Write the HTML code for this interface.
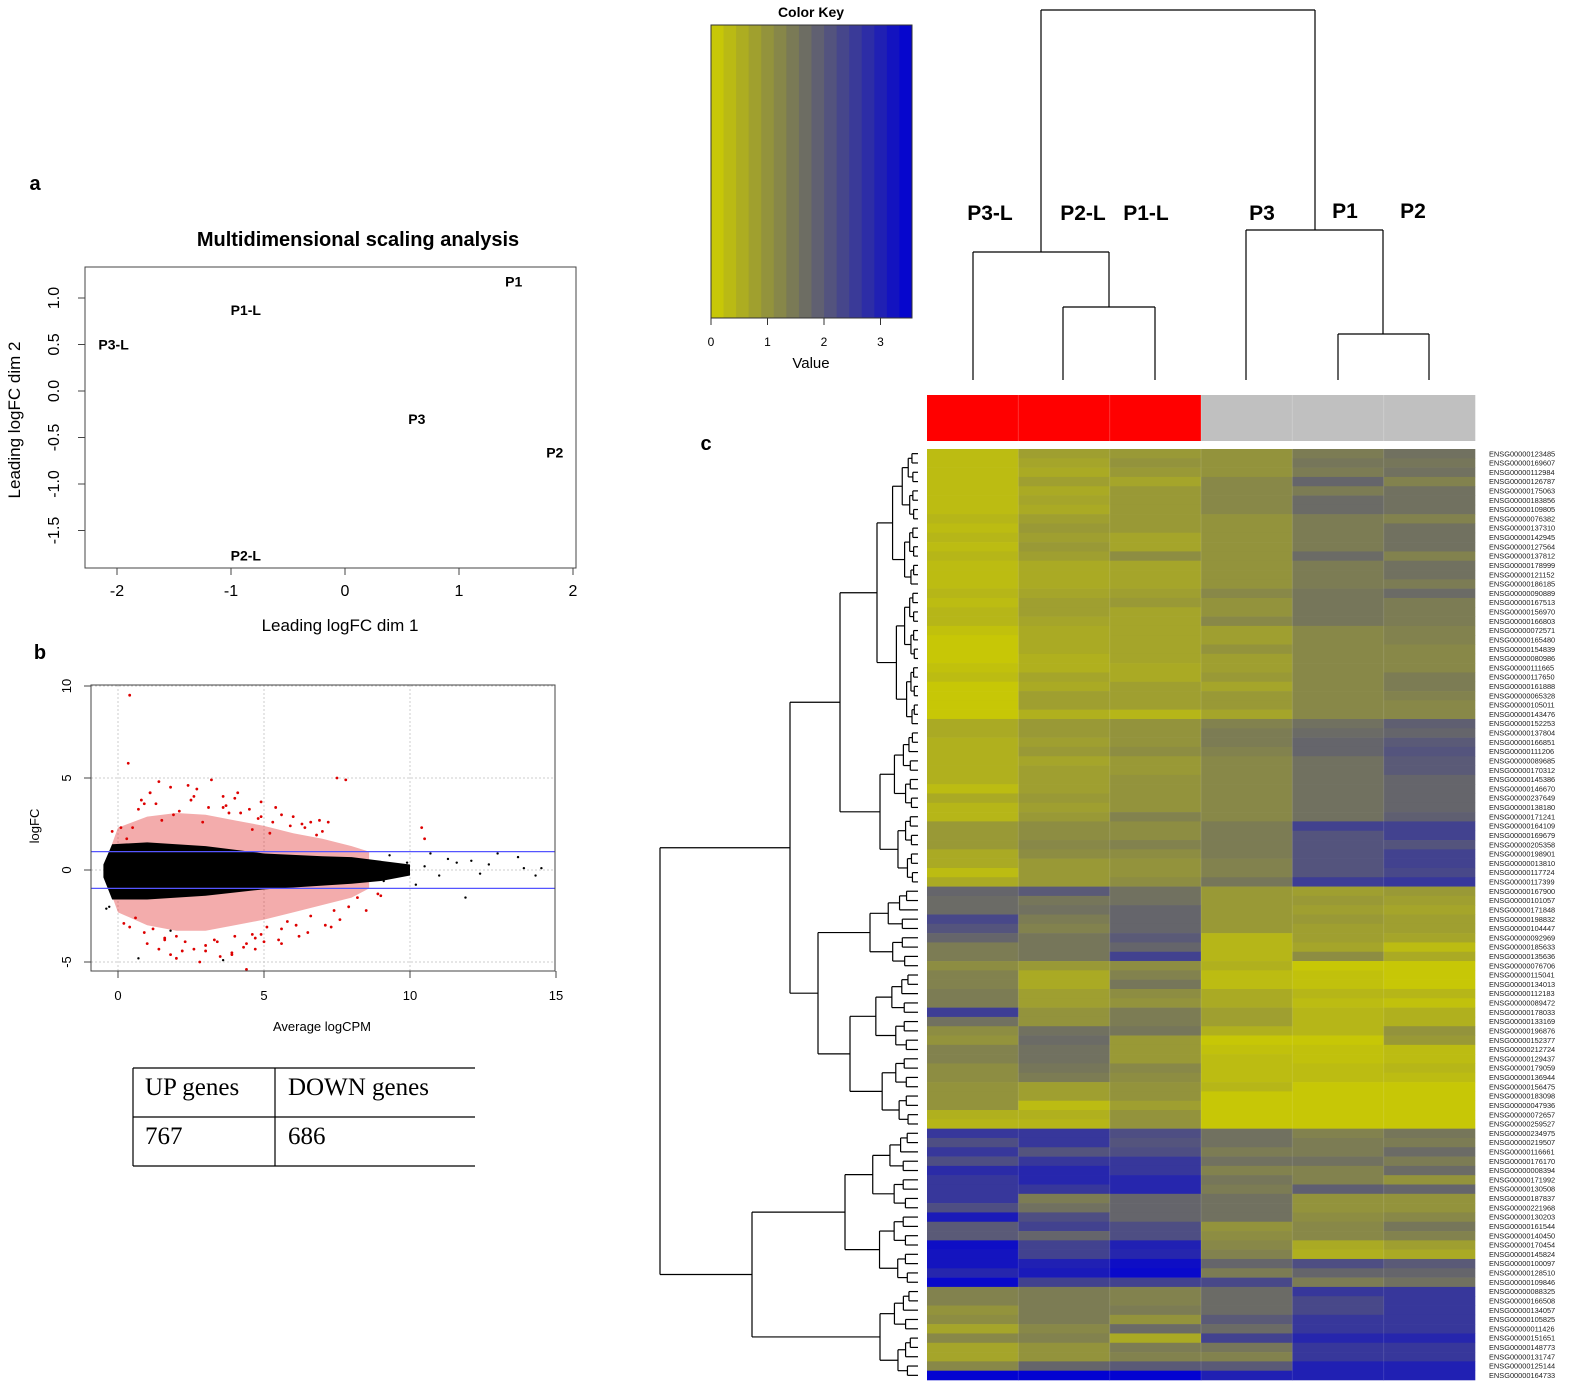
<!DOCTYPE html>
<html><head><meta charset="utf-8"><style>
html,body{margin:0;padding:0;background:#fff;}
svg{display:block;font-family:"Liberation Sans",sans-serif;}
</style></head><body>
<svg id="fig" width="1575" height="1395" viewBox="0 0 1575 1395" xmlns="http://www.w3.org/2000/svg">
<g id="panelA"></g>
<g id="panelB"></g>
<g id="table"></g>
<g id="keyG"></g>
<g id="heat"></g>
</svg>
<script>
const NS="http://www.w3.org/2000/svg";
// ---- MDS data ----
const mdsLabels=["P1","P1-L","P3-L","P3","P2","P2-L"];
const mdsX=[1.48,-0.87,-2.03,0.63,1.84,-0.87];
const mdsY=[1.18,0.87,0.50,-0.30,-0.66,-1.77];
const mdsXTicks=[-2,-1,0,1,2];
const mdsYTicks=[1.0,0.5,0.0,-0.5,-1.0,-1.5];
// ---- MA plot data ----
const maXTicks=[0,5,10,15];
const maYTicks=[10,5,0,-5];
const coreA=[-0.5,-0.2,1,3,5,7,8,9,10];
const coreUp=[0.3,1.4,1.5,1.3,0.9,0.75,0.7,0.5,0.3];
const coreLo=[-0.4,-1.6,-1.6,-1.4,-1.05,-0.85,-0.75,-0.6,-0.3];
const redA=[-0.3,0,1,2,3,4,5,6,7,8,8.6];
const redUp=[1,2.3,2.9,3.1,3.0,2.7,2.4,2.0,1.7,1.3,1];
const redLo=[-1,-2.3,-3.0,-3.3,-3.3,-3.0,-2.7,-2.3,-1.9,-1.5,-1];
const redPtA=[0.4,0.35,1.4,2.4,1.1,1.8,0.9,2.6,3.2,4.0,4.1,3.6,4.5,5.4,4.9,5.6,6.0,6.9,7.2,7.5,7.8,6.6,2.1,1.5,0.5,0.8,2.9,3.8,4.6,5.2,6.3,6.8,0.1,-0.2,0.3,1.2,2.0,3.0,3.9,4.7,5.6,6.2,7.1,7.3,8.2,9.0,10.4,10.5,1.0,1.6,2.2,3.4,4.3,4.9,5.6,6.5,7.6,8.5,8.9,0.6,2.8,3.5,4.4,
 0.7,1.3,1.9,2.5,3.1,3.7,4.2,4.8,5.3,5.9,6.4,7.0,0.2,0.9,1.6,2.3,3.3,4.0,4.6,5.1,5.8,6.6,7.4,1.1,2.7,3.6,4.9,0.4,1.8,3.0,4.4,5.5,6.1,7.9,2.0,3.9,1.4,2.6,4.7,5.0];
const redPtF=[9.5,5.8,4.8,4.6,4.2,4.5,3.6,4.0,4.9,3.9,4.2,3.4,3.3,3.4,2.9,3.0,2.9,2.7,2.6,5.0,4.9,2.6,3.2,2.7,2.3,3.8,2.6,3.1,2.2,2.0,2.5,1.9,2.3,2.1,1.7,-3.2,-3.6,-4.1,-4.6,-4.3,-4.0,-3.6,-3.0,-3.1,-1.5,-1.4,2.3,1.7,-4.0,-3.8,-4.4,-3.9,-4.2,-3.5,-3.2,-3.4,-2.7,-2.2,-1.3,-2.6,-5.0,-4.7,-5.4,
 3.3,3.6,3.0,3.8,3.4,3.5,3.1,2.8,2.6,2.4,2.3,2.1,-2.9,-3.4,-3.7,-3.9,-3.8,-3.6,-3.5,-3.1,-2.8,-2.5,-2.2,4.2,4.4,4.0,3.7,-3.1,-4.6,-4.4,-4.0,-3.8,-3.0,-2.0,-4.8,-4.5,-4.3,-4.3,-3.7,-3.9];
const blkPtA=[8.8,9.1,9.3,9.6,9.9,10.2,10.5,10.7,11.0,11.3,11.6,11.9,12.1,12.4,12.7,13.0,13.7,13.9,14.3,14.5,-0.4,-0.3,0.7,1.8,3.6];
const blkPtF=[0.3,-0.6,0.8,-0.3,0.4,-0.8,0.2,0.9,-0.3,0.6,0.4,-1.5,0.5,-0.2,0.3,0.9,0.7,0.1,-0.3,0.1,-2.1,-2.0,-4.8,-3.3,-4.9];
// ---- color key ----
const keyTicks=[0,1,2,3];
// ---- heatmap data ----
const sampleLabels=["P3-L","P2-L","P1-L","P3","P1","P2"];
const sampleGroup=["L","L","L","N","N","N"];
const geneIds=["ENSG00000123485","ENSG00000169607","ENSG00000112984","ENSG00000126787","ENSG00000175063","ENSG00000183856","ENSG00000109805","ENSG00000076382","ENSG00000137310","ENSG00000142945","ENSG00000127564","ENSG00000137812","ENSG00000178999","ENSG00000121152","ENSG00000186185","ENSG00000090889","ENSG00000167513","ENSG00000156970","ENSG00000166803","ENSG00000072571","ENSG00000165480","ENSG00000154839","ENSG00000080986","ENSG00000111665","ENSG00000117650","ENSG00000161888","ENSG00000065328","ENSG00000105011","ENSG00000143476","ENSG00000152253","ENSG00000137804","ENSG00000166851","ENSG00000111206","ENSG00000089685","ENSG00000170312","ENSG00000145386","ENSG00000146670","ENSG00000237649","ENSG00000138180","ENSG00000171241","ENSG00000164109","ENSG00000169679","ENSG00000205358","ENSG00000198901","ENSG00000013810","ENSG00000117724","ENSG00000117399","ENSG00000167900","ENSG00000101057","ENSG00000171848","ENSG00000198832","ENSG00000104447","ENSG00000092969","ENSG00000185633","ENSG00000135636","ENSG00000076706","ENSG00000115041","ENSG00000134013","ENSG00000112183","ENSG00000089472","ENSG00000178033","ENSG00000133169","ENSG00000196876","ENSG00000152377","ENSG00000212724","ENSG00000129437","ENSG00000179059","ENSG00000136944","ENSG00000156475","ENSG00000183098","ENSG00000047936","ENSG00000072657","ENSG00000259527","ENSG00000234975","ENSG00000219507","ENSG00000116661","ENSG00000176170","ENSG00000008394","ENSG00000171992","ENSG00000130508","ENSG00000187837","ENSG00000221968","ENSG00000130203","ENSG00000161544","ENSG00000140450","ENSG00000170454","ENSG00000145824","ENSG00000100097","ENSG00000128510","ENSG00000109846","ENSG00000088325","ENSG00000166508","ENSG00000134057","ENSG00000105825","ENSG00000011426","ENSG00000151651","ENSG00000148773","ENSG00000131747","ENSG00000125144","ENSG00000164733"];
const heatVals=[
[.3,.8,.9,1.0,1.4,1.6],[.3,.7,1.0,1.0,1.5,1.5],[.3,.6,.9,1.0,1.4,1.6],[.3,.8,.7,1.2,1.8,1.3],[.3,.6,.9,1.2,1.4,1.6],
[.3,.7,.9,1.2,1.7,1.6],[.3,.6,.9,1.2,1.7,1.6],[.4,.8,.9,1.0,1.4,1.3],[.3,.9,.9,1.0,1.4,1.6],[.4,.8,.7,1.0,1.4,1.6],
[.3,.9,.7,1.0,1.4,1.6],[.4,.8,1.1,1.0,1.7,1.3],[.3,.6,.7,1.0,1.4,1.6],[.3,.6,.7,1.0,1.4,1.6],[.3,.6,.7,1.0,1.4,1.4],
[.4,.7,.8,1.2,1.5,1.7],[.3,.8,.9,1.0,1.5,1.4],[.4,.8,.7,1.0,1.5,1.4],[.4,.7,.7,1.2,1.5,1.4],[.2,.6,.7,.8,1.2,1.3],
[.1,.6,.7,.8,1.2,1.3],[.1,.6,.7,1.0,1.2,1.2],[.1,.5,.7,.8,1.2,1.2],[.2,.5,.6,.8,1.2,1.2],[.3,.7,.6,.9,1.2,1.4],
[.1,.6,.8,.7,1.2,1.4],[.1,.8,.8,.9,1.2,1.3],[.1,.8,.8,.9,1.2,1.2],[.1,.5,.4,.7,1.2,1.2],[.6,.9,1.0,1.3,1.6,1.9],
[.6,.9,1.0,1.4,1.7,1.8],[.5,.8,1.0,1.4,1.8,2.0],[.5,.9,1.1,1.3,1.8,2.1],[.5,.7,.9,1.2,1.6,2.0],[.5,.8,.9,1.2,1.6,2.0],
[.5,.8,1.0,1.2,1.6,1.8],[.3,.8,1.0,1.2,1.6,1.8],[.6,.9,1.0,1.2,1.6,1.8],[.4,.8,1.0,1.2,1.6,1.8],[.4,.9,1.3,1.2,1.6,1.9],
[.9,1.1,1.1,1.4,2.4,2.4],[.9,1.1,1.1,1.4,2.1,2.4],[.9,1.2,1.3,1.4,2.1,2.1],[.6,1.1,1.1,1.4,2.1,2.4],[.6,.9,1.0,1.3,2.1,2.4],
[.3,.9,1.0,1.3,2.1,2.3],[.6,.9,1.1,1.5,2.5,2.6],[1.8,2.0,1.6,.9,.8,.9],[1.7,1.5,1.6,.9,.9,.8],[1.7,1.6,1.8,.9,.8,.7],
[2.3,1.4,1.8,.9,.9,.8],[2.1,1.3,1.8,.9,.8,.8],[1.8,1.5,2.0,.4,.8,.7],[1.4,1.5,1.8,.4,.7,.3],[1.4,1.5,2.4,.4,1.1,.6],
[1.1,.9,1.1,.5,.1,.1],[1.3,.6,1.3,.3,.2,.1],[1.3,.6,1.5,.3,.2,.1],[1.4,.8,1.1,.6,.4,.4],[1.4,.8,1.0,.6,.3,.2],
[2.5,1.0,1.4,.8,.4,.5],[1.6,1.0,1.4,.8,.4,.5],[1.1,1.6,1.5,.5,.4,1.0],[1.0,1.7,.9,.1,.1,.9],[1.3,1.6,.9,.2,.2,.3],
[1.3,1.6,.9,.3,.2,.3],[1.1,1.5,1.2,.3,.3,.4],[1.1,1.4,1.1,.3,.3,.3],[1.0,.8,1.0,.4,.1,.1],[1.0,.8,1.0,.1,.1,.1],
[1.0,.3,.8,.1,.1,.1],[.5,.5,1.0,.1,.1,.1],[.4,.4,1.0,.1,.1,.1],[2.6,2.6,2.2,1.6,1.3,1.5],[2.2,2.6,2.1,1.6,1.4,1.4],
[2.6,2.1,2.2,1.4,1.4,1.7],[2.2,2.6,2.6,1.6,1.6,1.4],[2.8,2.9,2.6,1.3,1.3,1.7],[2.6,2.9,2.9,1.5,1.3,1.0],[2.6,2.6,2.9,1.4,1.9,1.8],
[2.6,1.4,1.8,1.6,1.0,1.0],[2.2,1.6,1.8,1.6,1.0,1.0],[3.1,2.2,1.8,1.6,1.1,1.2],[2.0,2.4,2.2,1.0,1.2,1.5],[2.0,1.8,2.2,1.1,1.2,1.3],
[3.3,2.4,3.0,1.2,.6,.8],[3.2,2.4,2.9,1.3,.5,.6],[3.2,3.0,3.3,1.8,2.2,2.0],[2.9,3.1,3.4,1.4,1.8,1.8],[3.4,2.4,2.4,2.3,1.4,1.6],
[1.3,1.4,1.3,1.7,2.6,2.6],[1.3,1.4,1.3,1.7,2.3,2.6],[1.0,1.4,1.4,1.7,2.3,2.6],[1.1,1.4,1.0,2.0,2.6,2.6],[.7,1.2,1.7,1.7,2.6,2.6],
[1.2,1.3,.6,2.4,2.9,2.9],[.7,1.0,1.4,1.5,2.6,2.6],[.7,1.0,1.3,1.3,2.6,2.6],[1.2,1.8,2.0,2.0,3.0,3.0],[3.5,3.5,3.5,3.0,3.0,3.0]];

function mk(parent,tag,attrs,name,text){
  const e=document.createElementNS(NS,tag);
  for(const k in attrs)e.setAttribute(k,attrs[k]);
  
  
  if(text!==undefined)e.textContent=text;
  parent.appendChild(e);return e;
}
function colorOf(v){const t=Math.max(0,Math.min(1,v/3.55));
  return `rgb(${Math.round(205*(1-t))},${Math.round(205*(1-t))},${Math.round(212*t)})`;}

// ===== Panel A =====
(function(){
const g=document.getElementById('panelA');
const sx=v=>345+114*v, sy=v=>391-93*v;
mk(g,'text',{x:35,y:190,'font-size':20,'font-weight':'bold','text-anchor':'middle'},'panel-label-a','a');
mk(g,'text',{x:358,y:246,'font-size':20,'font-weight':'bold','text-anchor':'middle'},'mds-title','Multidimensional scaling analysis');
mk(g,'rect',{x:85,y:267,width:491,height:301,fill:'none',stroke:'#444','stroke-width':1},'mds-plot-box');
mdsXTicks.forEach(t=>{mk(g,'line',{x1:sx(t),x2:sx(t),y1:568,y2:575,stroke:'#444'},'mds-x-tick');
  mk(g,'text',{x:sx(t),y:596,'font-size':16,'text-anchor':'middle'},'mds-x-tick-label',String(t));});
mdsYTicks.forEach(t=>{mk(g,'line',{x1:78,x2:85,y1:sy(t),y2:sy(t),stroke:'#444'},'mds-y-tick');
  mk(g,'text',{x:0,y:0,'font-size':16,'text-anchor':'middle',transform:`translate(59,${sy(t)}) rotate(-90)`},'mds-y-tick-label',t.toFixed(1));});
mk(g,'text',{x:340,y:631,'font-size':17,'text-anchor':'middle'},'mds-x-axis-title','Leading logFC dim 1');
mk(g,'text',{x:0,y:0,'font-size':17,'text-anchor':'middle',transform:'translate(20,420) rotate(-90)'},'mds-y-axis-title','Leading logFC dim 2');
mdsLabels.forEach((l,i)=>mk(g,'text',{x:sx(mdsX[i]),y:sy(mdsY[i])+5,'font-size':14,'font-weight':'bold','text-anchor':'middle'},'mds-point-'+l.toLowerCase(),l));
})();

// ===== Panel B =====
(function(){
const g=document.getElementById('panelB');
const sx=v=>118+29.2*v, sy=v=>870-18.4*v;
mk(g,'text',{x:40,y:659,'font-size':20,'font-weight':'bold','text-anchor':'middle'},'panel-label-b','b');
maXTicks.forEach(t=>{ if(t<15) mk(g,'line',{x1:sx(t),x2:sx(t),y1:685,y2:971,stroke:'#ccc','stroke-dasharray':'2,2'},'ma-x-grid');
  mk(g,'line',{x1:sx(t),x2:sx(t),y1:971,y2:978,stroke:'#444'},'ma-x-tick');
  mk(g,'text',{x:sx(t),y:1000,'font-size':13,'text-anchor':'middle'},'ma-x-tick-label',String(t));});
maYTicks.forEach(t=>{ mk(g,'line',{x1:91,x2:555,y1:sy(t),y2:sy(t),stroke:'#ccc','stroke-dasharray':'2,2'},'ma-y-grid');
  mk(g,'line',{x1:84,x2:91,y1:sy(t),y2:sy(t),stroke:'#444'},'ma-y-tick');
  mk(g,'text',{x:0,y:0,'font-size':13,'text-anchor':'middle',transform:`translate(71,${sy(t)}) rotate(-90)`},'ma-y-tick-label',String(t));});
function band(A,U,L,fill,op,name){
  let d='M'+A.map((a,i)=>sx(a)+','+sy(U[i])).join(' L');
  d+=' L'+A.slice().reverse().map((a,j)=>{const i=A.length-1-j;return sx(a)+','+sy(L[i]);}).join(' L')+' Z';
  mk(g,'path',{d:d,fill:fill,'fill-opacity':op},name);}
band(redA,redUp,redLo,'#e23030',0.4,'ma-significant-cloud');
redPtA.forEach((a,i)=>mk(g,'circle',{cx:sx(a),cy:sy(redPtF[i]),r:1.4,fill:'#dd0000'},'ma-de-gene-point'));
band(coreA,coreUp,coreLo,'#000',1,'ma-nonsignificant-cloud');
blkPtA.forEach((a,i)=>mk(g,'circle',{cx:sx(a),cy:sy(blkPtF[i]),r:1.2,fill:'#000'},'ma-gene-point'));
[1,-1].forEach(v=>mk(g,'line',{x1:91,x2:555,y1:sy(v),y2:sy(v),stroke:'#5555ff','stroke-width':1.2},'ma-threshold-line'));
mk(g,'rect',{x:91,y:685,width:464,height:286,fill:'none',stroke:'#444'},'ma-plot-box');
mk(g,'text',{x:322,y:1031,'font-size':13,'text-anchor':'middle'},'ma-x-axis-title','Average logCPM');
mk(g,'text',{x:0,y:0,'font-size':13,'text-anchor':'middle',transform:'translate(39,826) rotate(-90)'},'ma-y-axis-title','logFC');
})();

// ===== Table =====
(function(){
const g=document.getElementById('table');
const st={stroke:'#000','stroke-width':1.2};
mk(g,'line',Object.assign({x1:133,x2:475,y1:1068,y2:1068},st),'table-top-border');
mk(g,'line',Object.assign({x1:133,x2:475,y1:1117,y2:1117},st),'table-row-divider');
mk(g,'line',Object.assign({x1:133,x2:475,y1:1166,y2:1166},st),'table-bottom-border');
mk(g,'line',Object.assign({x1:133,x2:133,y1:1068,y2:1166},st),'table-left-border');
mk(g,'line',Object.assign({x1:275,x2:275,y1:1068,y2:1166},st),'table-column-divider');
const f={'font-size':25,'font-family':'"Liberation Serif",serif'};
mk(g,'text',Object.assign({x:145,y:1095},f),'up-genes-header','UP genes');
mk(g,'text',Object.assign({x:288,y:1095},f),'down-genes-header','DOWN genes');
mk(g,'text',Object.assign({x:145,y:1144},f),'up-genes-count','767');
mk(g,'text',Object.assign({x:288,y:1144},f),'down-genes-count','686');
})();

// ===== Color key =====
(function(){
const g=document.getElementById('keyG');
const kx=v=>711+56.5*v;
mk(g,'text',{x:811,y:17,'font-size':14,'font-weight':'bold','text-anchor':'middle'},'color-key-title','Color Key');
const n=16,w=(912-711)/n;
for(let i=0;i<n;i++){mk(g,'rect',{x:711+i*w,y:25,width:w+0.5,height:293,fill:colorOf((i+0.5)/n*3.55)},'color-key-bin');}
mk(g,'rect',{x:711,y:25,width:201,height:293,fill:'none',stroke:'#333'},'color-key-frame');
keyTicks.forEach(t=>{mk(g,'line',{x1:kx(t),x2:kx(t),y1:318,y2:325,stroke:'#333'},'color-key-tick');
  mk(g,'text',{x:kx(t),y:346,'font-size':12,'text-anchor':'middle'},'color-key-tick-label',String(t));});
mk(g,'text',{x:811,y:368,'font-size':15,'text-anchor':'middle'},'color-key-axis-title','Value');
})();

// ===== Heatmap =====
(function(){
const g=document.getElementById('heat');
const x0=927,cw=(1475-927)/6,y0=449,rh=(1380-449)/geneIds.length;
const rowY=i=>y0+(i-0.5)*rh; // 1-indexed
mk(g,'text',{x:706,y:450,'font-size':20,'font-weight':'bold','text-anchor':'middle'},'panel-label-c','c');
heatVals.forEach((row,i)=>row.forEach((v,j)=>{
  mk(g,'rect',{x:x0+j*cw,y:y0+i*rh,width:cw+0.3,height:rh+0.3,fill:colorOf(v)},'heatmap-cell');}));
for(let j=1;j<6;j++)mk(g,'line',{x1:x0+j*cw,x2:x0+j*cw,y1:y0,y2:1380,stroke:'#fff','stroke-opacity':0.12},'heatmap-column-divider');
geneIds.forEach((id,i)=>mk(g,'text',{x:1489,y:rowY(i+1)+2.6,'font-size':7.4,fill:'#222'},'gene-label',id));
sampleGroup.forEach((s,j)=>mk(g,'rect',{x:x0+j*cw,y:395,width:cw+0.3,height:46,fill:s==='L'?'#ff0000':'#c0c0c0'},'sample-group-bar'));
for(let j=1;j<6;j++)mk(g,'line',{x1:x0+j*cw,x2:x0+j*cw,y1:395,y2:441,stroke:'#fff','stroke-opacity':0.2},'group-bar-divider');
const labX=[990,1083,1146,1262,1345,1413],labY=[220,220,220,220,218,218];
sampleLabels.forEach((l,j)=>mk(g,'text',{x:labX[j],y:labY[j],'font-size':21,'font-weight':'bold','text-anchor':'middle'},'sample-label-'+l.toLowerCase(),l));
const cl=[[1041,10,1315,10],[1041,10,1041,252],[1315,10,1315,230],[973,252,1109,252],[973,252,973,380],[1109,252,1109,307],[1063,307,1155,307],[1063,307,1063,380],[1155,307,1155,380],[1246,230,1383,230],[1246,230,1246,380],[1383,230,1383,334],[1338,334,1429,334],[1338,334,1338,380],[1429,334,1429,380]];
cl.forEach(s=>mk(g,'line',{x1:s[0],y1:s[1],x2:s[2],y2:s[3],stroke:'#000','stroke-width':1.2},'column-dendrogram-branch'));
const LEAFX=918;
const tree={x:660,c:[{x:790,c:[{x:840,c:[{r:[1,30],x:877},{r:[31,47],x:880}]},{x:818,c:[{r:[48,56],x:870},{r:[57,73],x:850}]}]},{x:752,c:[{r:[74,90],x:845},{r:[91,100],x:880}]}]};
function expand(n){
  if(n.c)return {x:n.x,c:n.c.map(expand)};
  const [a,b]=n.r; if(a===b)return {leaf:a};
  const m=Math.floor((a+b)/2), cx=n.x+(LEAFX-n.x)*0.38;
  return {x:n.x,c:[expand({r:[a,m],x:cx}),expand({r:[m+1,b],x:cx+(LEAFX-cx)*0.15})]};
}
function draw(n){
  if(n.leaf!==undefined)return {x:LEAFX,y:rowY(n.leaf)};
  const kids=n.c.map(draw);
  kids.forEach(k=>mk(g,'line',{x1:n.x,x2:k.x,y1:k.y,y2:k.y,stroke:'#000','stroke-width':1.2},'row-dendrogram-branch'));
  mk(g,'line',{x1:n.x,x2:n.x,y1:kids[0].y,y2:kids[kids.length-1].y,stroke:'#000','stroke-width':1.2},'row-dendrogram-branch');
  return {x:n.x,y:(kids[0].y+kids[kids.length-1].y)/2};
}
draw(expand(tree));
})();
</script>
</body></html>
